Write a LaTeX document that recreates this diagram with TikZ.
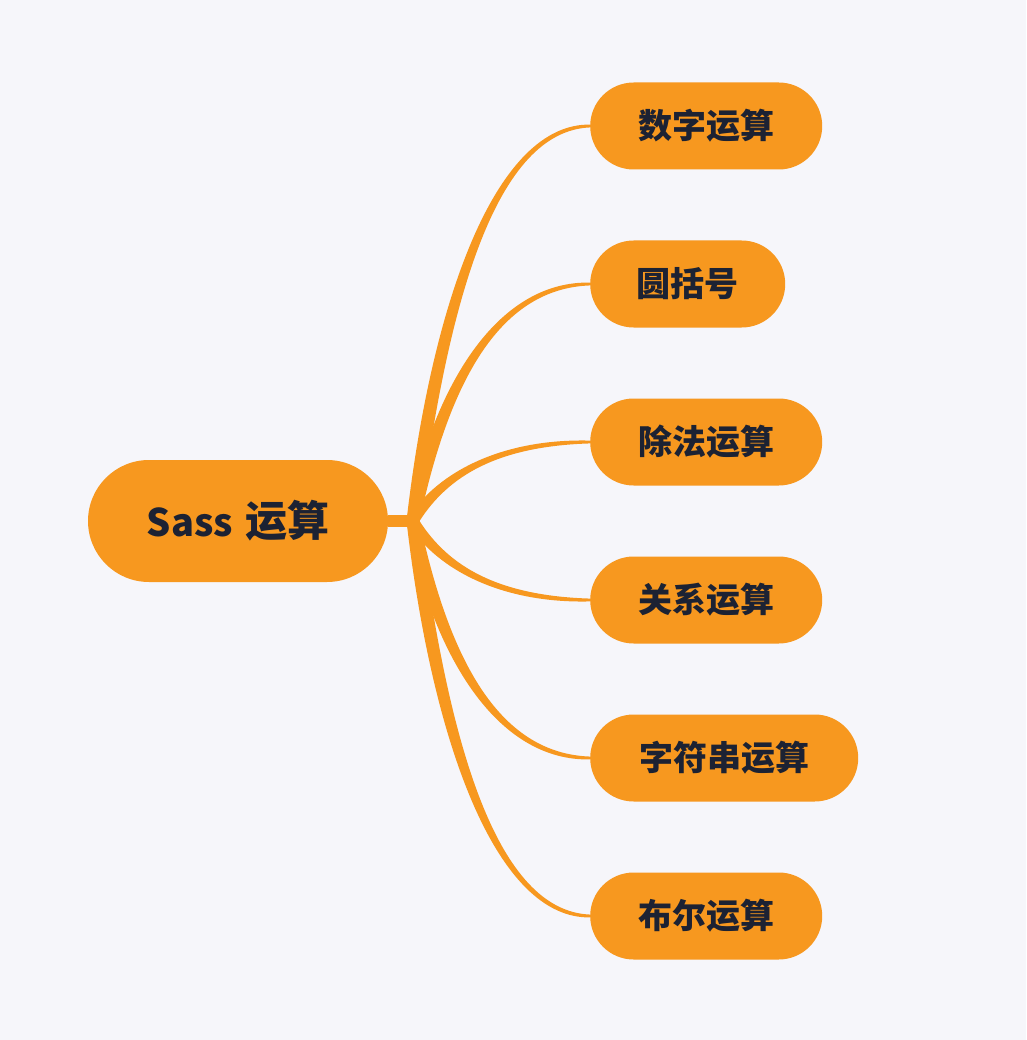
\documentclass[tikz,border=0pt]{standalone}
\usepackage{fontspec}
\setmainfont{Noto Sans CJK SC}
\usetikzlibrary{calc}
\definecolor{bgcol}{HTML}{F6F6FA}
\definecolor{orangecol}{HTML}{F7981F}
\definecolor{txtcol}{HTML}{1C2233}
\tikzset{
  rootbox/.style={fill=orangecol, rounded corners=61pt, minimum width=300pt, minimum height=122pt, inner sep=0pt, text=txtcol, font=\bfseries},
  leafbox/.style={fill=orangecol, rounded corners=43.5pt, minimum height=87pt, inner sep=0pt, anchor=west, text=txtcol, font=\fontsize{34}{40}\selectfont\bfseries},
}
\newcommand\mybranch[1]{%
  \fill[orangecol] let \p1=(hub), \p2=(#1.west), \n1={sign(\y2-\y1)} in
    (\x1-6.5pt,\y1) .. controls ({\x1+27pt-8pt},{\y1+0.56*(\y2-\y1)}) and ({\x1+0.47*(\x2-\x1)},{\y2+\n1*4pt}) .. (\x2+1pt,{\y2+\n1*1.4pt})
    -- (\x2+1pt,{\y2-\n1*1.4pt}) .. controls ({\x1+0.47*(\x2-\x1)},{\y2-\n1*4pt}) and ({\x1+27pt+8pt},{\y1+0.56*(\y2-\y1)}) .. (\x1+6.5pt,\y1) -- cycle;}
\begin{document}
\begin{tikzpicture}[x=1pt,y=-1pt]
\fill[bgcol] (0,0) rectangle (1026,1040);
\useasboundingbox (0,0) rectangle (1026,1040);
\node[rootbox] (root) at (238,521) {{\fontsize{38}{46}\selectfont Sass}\hspace{12pt}{\fontsize{42}{50}\selectfont 运算}};
\coordinate (hub) at (413,521);
\node[leafbox, minimum width=232pt] (c1) at (590,126) {数字运算};
\node[leafbox, minimum width=195pt] (c2) at (590,284) {圆括号};
\node[leafbox, minimum width=232pt] (c3) at (590,442) {除法运算};
\node[leafbox, minimum width=232pt] (c4) at (590,600) {关系运算};
\node[leafbox, minimum width=268pt] (c5) at (590,758) {字符串运算};
\node[leafbox, minimum width=232pt] (c6) at (590,916) {布尔运算};
\draw[orangecol, line width=12pt] (root.east) -- ($(hub)+(1,0)$);
\mybranch{c1}
\mybranch{c2}
\mybranch{c3}
\mybranch{c4}
\mybranch{c5}
\mybranch{c6}
\end{tikzpicture}
\end{document}
